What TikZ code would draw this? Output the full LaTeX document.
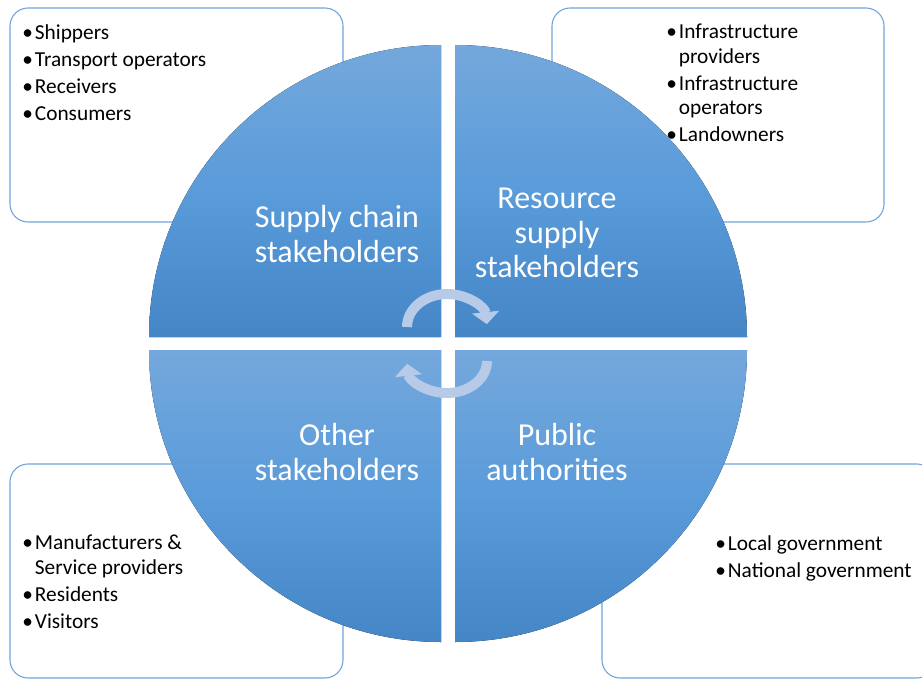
\documentclass[tikz,border=0pt]{standalone}
\usepackage{fontspec}
\setmainfont{Carlito}
\usetikzlibrary{arrows.meta}
\definecolor{quadtop}{HTML}{74A8DC}
\definecolor{quadmid}{HTML}{5A9BDA}
\definecolor{quadbot}{HTML}{4486C6}
\definecolor{boxline}{HTML}{6FA3DC}
\definecolor{cyclearr}{HTML}{B7CBE8}

% bullet with hanging indent for the side lists
\newcommand{\bitem}{\makebox[9.5pt][l]{\textbullet}}
\newcommand{\bcont}{\hspace*{9.5pt}}

\begin{document}
\begin{tikzpicture}[
  x=0.75pt, y=-0.75pt,
  listbox/.style={draw=boxline, fill=white, rounded corners=13.5pt, line width=0.8pt},
  quad/.style={top color=quadtop, bottom color=quadbot, middle color=quadmid},
  quadlabel/.style={text=white, font=\fontsize{24}{26}\selectfont, align=center},
  items/.style={font=\fontsize{16}{18.5}\selectfont, align=left,
                anchor=north west, inner sep=0pt},
  turn/.style={draw=cyclearr, line width=7.5pt, -{Triangle[width=20pt,length=9pt]}}
]
  \clip (0,0) rectangle (922,679);
  \fill[white] (0,0) rectangle (922,679);

  % Side boxes
  \draw[listbox] (10,8) rectangle (343,222);
  \draw[listbox] (552,8) rectangle (884,222);
  \draw[listbox] (10,464) rectangle (343,678);
  \draw[listbox] (602,464) rectangle (935,678);

  % Quadrants
  \fill[quad] (441,337) -- ++(-292,0) arc[start angle=180, end angle=270, radius=292] -- cycle;
  \fill[quad] (455,337) -- ++(0,-292) arc[start angle=270, end angle=360, radius=292] -- cycle;
  \fill[quad] (441,350) -- ++(-292,0) arc[start angle=180, end angle=90, radius=292] -- cycle;
  \fill[quad] (455,350) -- ++(292,0) arc[start angle=0, end angle=90, radius=292] -- cycle;

  % Quadrant labels
  \node[quadlabel] (sclabel) at (337,234) {Supply chain\\stakeholders};
  \node[quadlabel] (rslabel) at (557,233) {Resource\\supply\\stakeholders};
  \node[quadlabel] (olabel) at (337,452) {Other\\stakeholders};
  \node[quadlabel] (palabel) at (557,452) {Public\\authorities};

  % Lists
  \node[items] (scitems) at (22,24)
    {\bitem Shippers\\[1.75pt] \bitem Transport operators\\[1.75pt]
     \bitem Receivers\\[1.75pt] \bitem Consumers};
  \node[items] (rsitems) at (666,24)
    {\bitem Infrastructure\\ \bcont providers\\[1.5pt] \bitem Infrastructure\\
     \bcont operators\\[1.75pt] \bitem Landowners};
  \node[items] (oitems) at (22,535)
    {\bitem Manufacturers \&\\ \bcont Service providers\\[1.75pt]
     \bitem Residents\\[1.75pt] \bitem Visitors};
  \node[items] (paitems) at (715,535)
    {\bitem Local government\\[1.75pt] \bitem National government};

  % Cycle arrows
  \draw[turn] (407,327) arc[start angle=180, end angle=355, x radius=40, y radius=33];
  \draw[turn] (487,361) arc[start angle=0, end angle=175, x radius=40, y radius=32];
\end{tikzpicture}
\end{document}
